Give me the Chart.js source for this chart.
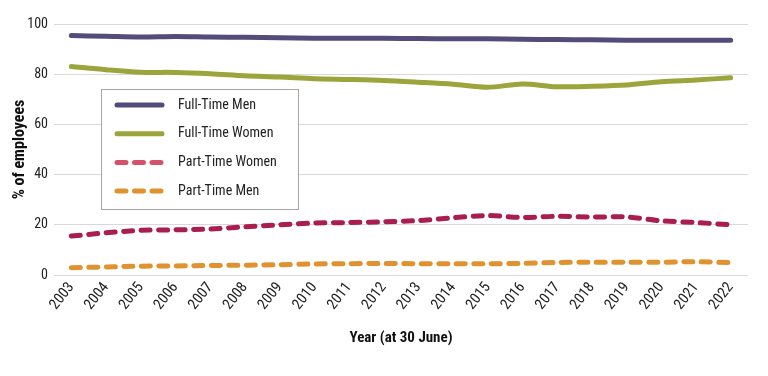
<!DOCTYPE html>
<html>
<head>
<meta charset="utf-8">
<script src="https://cdn.jsdelivr.net/npm/chart.js@4"></script>
<style>
    html, body { margin: 0; padding: 0; background: #fff; }
    #wrap { width: 768px; height: 376px; }
</style>
</head>
<body>
<div id="wrap"><canvas id="employmentChart"></canvas></div>
<script>
const years = ['2003', '2004', '2005', '2006', '2007', '2008', '2009', '2010', '2011', '2012',
               '2013', '2014', '2015', '2016', '2017', '2018', '2019', '2020', '2021', '2022'];
const yTicks = [0, 20, 40, 60, 80, 100];

const fullTimeMen = [95.4, 95.1, 94.8, 95.0, 94.8, 94.7, 94.5, 94.3, 94.3, 94.3,
                     94.2, 94.1, 94.1, 93.9, 93.8, 93.7, 93.5, 93.5, 93.5, 93.5];
const fullTimeWomen = [83.1, 81.8, 80.8, 80.7, 80.2, 79.4, 78.9, 78.2, 77.9, 77.5,
                       76.8, 76.0, 74.8, 76.1, 75.0, 75.2, 75.7, 77.0, 77.7, 78.6];
const partTimeWomen = [15.5, 16.8, 17.8, 18.0, 18.3, 19.2, 20.0, 20.7, 20.9, 21.2,
                       21.7, 22.8, 23.7, 22.9, 23.4, 23.1, 23.1, 21.6, 20.9, 20.0];
const partTimeMen = [2.9, 3.2, 3.5, 3.6, 3.8, 3.9, 4.1, 4.4, 4.5, 4.6,
                     4.5, 4.5, 4.5, 4.6, 5.0, 5.1, 5.1, 5.1, 5.3, 4.9];

const FONT = '"Liberation Sans Narrow", "Roboto Condensed", "Arial Narrow", "Liberation Sans", sans-serif';

// legend drawn inside the plot, like the original
const boxLegend = {
    id: 'boxLegend',
    afterDraw(chart) {
        const ctx = chart.ctx;
        const area = chart.chartArea;
        const x0 = area.left + 47, y0 = area.top + 65;
        const w = 197, h = 120, rowH = 28.7;
        ctx.save();
        ctx.fillStyle = '#fff';
        ctx.fillRect(x0, y0, w, h);
        ctx.strokeStyle = '#a6a6a6';
        ctx.lineWidth = 1;
        ctx.strokeRect(x0 + 0.5, y0 + 0.5, w, h);
        chart.data.datasets.forEach((ds, i) => {
            const cy = y0 + 16 + i * rowH;
            ctx.beginPath();
            ctx.lineWidth = 5;
            ctx.lineCap = 'round';
            ctx.strokeStyle = ds.legendColor || ds.borderColor;
            ctx.setLineDash(ds.borderDash && ds.borderDash.length ? [9, 8.5] : []);
            ctx.moveTo(x0 + 16, cy);
            ctx.lineTo(x0 + 61, cy);
            ctx.stroke();
            ctx.setLineDash([]);
            ctx.fillStyle = '#222';
            ctx.font = '14px ' + FONT;
            ctx.textBaseline = 'middle';
            ctx.fillText(ds.label, x0 + 77, cy);
        });
        ctx.restore();
    }
};

const ctx = document.getElementById('employmentChart').getContext('2d');
new Chart(ctx, {
    type: 'line',
    data: {
        labels: years,
        datasets: [
            {
                label: 'Full-Time Men',
                data: fullTimeMen,
                borderColor: '#544b7a',
                borderWidth: 5,
                borderCapStyle: 'round',
                pointRadius: 0,
                tension: 0.3
            },
            {
                label: 'Full-Time Women',
                data: fullTimeWomen,
                borderColor: '#9ba53b',
                borderWidth: 5,
                borderCapStyle: 'round',
                pointRadius: 0,
                tension: 0.3
            },
            {
                label: 'Part-Time Women',
                data: partTimeWomen,
                borderColor: '#aa1e4f',
                legendColor: '#d5526b',
                borderWidth: 5,
                borderDash: [9, 8.5],
                borderCapStyle: 'round',
                pointRadius: 0,
                tension: 0.3
            },
            {
                label: 'Part-Time Men',
                data: partTimeMen,
                borderColor: '#e0922f',
                borderWidth: 5,
                borderDash: [9, 8.5],
                borderCapStyle: 'round',
                pointRadius: 0,
                tension: 0.3
            }
        ]
    },
    options: {
        responsive: true,
        maintainAspectRatio: false,
        animation: false,
        layout: {
            padding: { top: 24, right: 20, bottom: 0, left: 0 }
        },
        plugins: {
            legend: { display: false },
            tooltip: { enabled: false }
        },
        scales: {
            x: {
                offset: true,
                grid: { display: false, drawTicks: false },
                border: { display: false },
                ticks: {
                    color: '#222',
                    font: { family: FONT, size: 15 },
                    minRotation: 52,
                    maxRotation: 52,
                    padding: 4
                },
                title: {
                    display: true,
                    text: 'Year (at 30 June)',
                    color: '#111',
                    font: { family: FONT, size: 15, weight: 'bold' },
                    padding: { top: 0, bottom: 29 }
                },
                afterFit: (scale) => { scale.height = 101; }
            },
            y: {
                min: 0,
                max: 100,
                afterBuildTicks: (scale) => {
                    scale.ticks = yTicks.map(v => ({ value: v }));
                },
                grid: { color: '#d9d9d9', lineWidth: 1, drawTicks: false },
                border: { display: false },
                ticks: {
                    color: '#222',
                    font: { family: FONT, size: 14 },
                    padding: 6
                },
                title: {
                    display: true,
                    text: '% of employees',
                    color: '#111',
                    font: { family: FONT, size: 16, weight: 'bold' },
                    padding: { top: 10, bottom: 0 }
                },
                afterFit: (scale) => { scale.width = 54; }
            }
        }
    },
    plugins: [boxLegend]
});
</script>
</body>
</html>
